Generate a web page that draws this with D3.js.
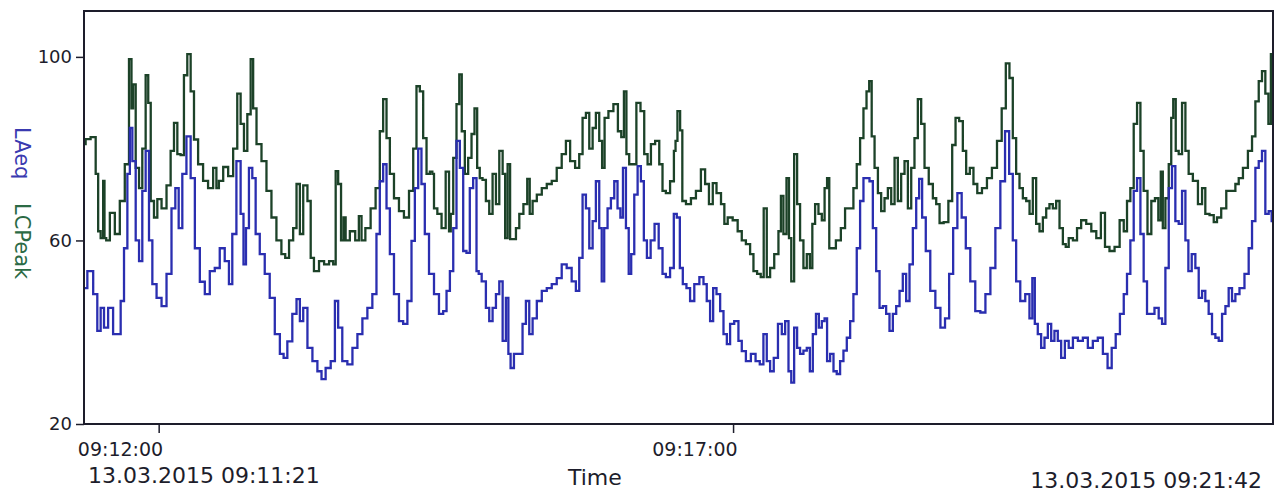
<!DOCTYPE html>
<html>
<head>
<meta charset="utf-8">
<script src="https://cdn.jsdelivr.net/npm/d3@7"></script>
<style>
  html, body { margin: 0; padding: 0; background: #ffffff; }
  svg { display: block; }
</style>
</head>
<body>
<svg id="chart" width="1276" height="495"></svg>
<script>
// ---- data (seconds after start, dB) ----
const startTime = "2015-03-13 09:11:21";
const endTime = "2015-03-13 09:21:42";
const yTicks = [20, 60, 100];
const xTicks = ["09:12:00", "09:17:00"];
const startLabel = "13.03.2015 09:11:21";
const endLabel = "13.03.2015 09:21:42";
const xTitle = "Time";
const seriesNames = ["LAeq", "LCPeak"];

const lcpeak = [
[0,81],[1.7,82.1],[5.2,82.5],[7,74.5],[7.8,62],[9.6,60.5],[10.4,73],[11,60.5],[12.2,60],[14.8,66],[17.4,61.4],[20,68.6],[22.6,76.6],[24.4,99.5],[25.2,88.8],[26.1,94],[27.9,75.8],[29.6,71.4],[31.3,80],[33.1,96],[34,90],[35.7,68.6],[37.4,65],[39.2,69],[41.8,67],[44.4,72],[46.1,79.5],[47.9,85.6],[49.6,78.8],[51.3,78.6],[53.1,96],[54.8,100.6],[56.6,92.5],[58.3,82],[60.9,76.6],[63.5,73],[66.1,71.4],[68.8,75.8],[69.5,71.4],[71.4,73],[74,76],[76.6,74],[79.2,80],[80.9,92],[82.7,85.4],[84.4,79.5],[86.2,87.5],[87.9,99.5],[88.8,88.8],[91.4,81],[94,77.3],[96.6,70.8],[99.2,65],[101.8,60],[104.4,57],
[105.8,56.2],[108.4,60],[110.1,62.7],[111.9,72.3],[113.6,61.4],[115.4,72],[118,68.6],[118.8,56.2],[121.4,53.3],[124.1,55.5],[126.7,54.8],[129.3,55.5],[131,54.8],[131.9,75.1],[133.6,72.3],[134.9,60],[136.2,65],[137.1,60],[140.6,62],[142.7,60],[144.4,65.3],[145.5,60],[148.4,62.7],[151,67],[153.6,71.4],[155.4,83.8],[157.1,90.8],[158.9,82.3],[160.6,74.5],[163.2,69.2],[165.8,66.4],[168.4,65],[171.1,70.8],[172.8,80],[174.5,93.6],[176.3,92.5],[178,82.3],[179.8,74.5],[181.5,75],[182.4,74.5],[183.2,67],[185.9,65.8],[187.6,62.7],[190.2,75],[191.1,62],[192,65.8],[193.7,78],[195.4,89.7],[196.6,96.2],[198,83.8],[199.8,74.5],[201.5,78],[203.3,83.2],[204.6,88.8],
[206.1,75.8],[207.3,73.6],[209,73.2],[210.8,68.6],[212.5,65.8],[214.3,74.5],[216,67.9],[217.8,79.5],[219.5,74.5],[220.4,60.5],[222.1,76.6],[223,60.3],[224.7,60.3],[226.5,62.7],[228.2,65.8],[230.8,67.9],[232.2,73.4],[233.4,65.8],[235.2,68.6],[237.8,70],[240.4,71.4],[243,72.3],[245.6,73],[248.2,75.8],[250.8,78.8],[252.6,81.7],[255.2,77.3],[257.8,75.8],[259.5,78.8],[261.3,86.7],[263,87.8],[264.8,80],[266.5,84.5],[268.2,87.8],[270,81.7],[271.2,75.8],[272.6,86.7],[275.2,88.2],[277.8,89.7],[279.9,83.8],[281.3,82.5],[282.7,92.5],[283.9,78.8],[285.6,76.6],[287.4,76.6],[289.6,90],[291.7,88.2],[293.5,78.8],[295.2,76.6],[297,81],[299.6,81.7],[301.3,76.6],[303,70.8],[304.8,70.3],[307.4,72.9],[308.8,79.5],
[309.1,81.7],[310.8,88.2],[311.9,84],[313.1,68.6],[315.7,67.9],[318.3,69.2],[320.9,70.8],[323.5,75.5],[325.3,72.3],[327.5,67.9],[329.3,72.5],[331.4,70.3],[334,67.9],[334.9,63.6],[337.5,65],[340.1,64.4],[342.7,62],[344.4,60],[347,59.2],[348.8,57],[350.5,53.3],[352.6,52.7],[354.3,52],[355.7,67],[357.5,52],[359.2,54],[361.8,57],[363.6,62],[364.4,69.7],[366.2,61.4],[367.6,73.6],[368.8,60.5],[370,51.1],[371.8,78.8],[373.1,67.9],[374.9,60],[376.6,54],[378.4,57],[379.8,54],[381,63.6],[382.7,67.9],[384.5,65.8],[386.2,64.4],[387.4,71.4],[388.8,73.6],[389.7,58.3],[391.4,58.3],[394,60],[396.6,62.7],[398.4,67],[401,67],[402.7,71.4],[404.5,76.6],[406.2,82.3],[408,88.8],
[409.4,92.5],[410.8,94.7],[412,82.7],[413.8,75.8],[415.5,70.3],[417.2,66.4],[419,69.2],[420.7,71.4],[422.5,67.9],[424.2,78],[425.9,68.6],[427.7,74.5],[429.4,77.3],[431.2,67],[432.9,75.8],[434.6,82.3],[436.4,90.8],[438.1,85.4],[439.9,75.8],[442.5,72.3],[444.2,69.2],[446,67.9],[447.7,63.8],[450.3,64],[452.6,68.6],[454.3,80.8],[456.1,86.7],[458.1,86],[459.9,79.5],[461.6,74.5],[463.7,75.8],[465.4,72.3],[467.7,70.3],[470.3,71.4],[472.9,73.6],[475.5,75.8],[478.2,81.7],[480.4,88.8],[482.5,98.6],[484.2,95.4],[486,82.3],[487.7,74.5],[489.5,71.4],[491.2,69.2],[493,68.6],[494.7,65.8],[496.4,73.6],[498.2,63.6],[499.9,62],[501.7,65],[503.4,67],[505.1,67.9],[506.9,67],[508.6,68.6],[510.4,62.7],[512.1,59.2],
[513.4,58.6],[515.2,60.5],[517.8,60],[519.5,62.7],[522.1,64.4],[524.8,63.6],[527.4,62],[530,60.5],[532.2,66],[534.3,58.6],[536.9,57.7],[539.6,58.6],[542.2,64.4],[543.9,62],[545.6,68.6],[547.4,71.4],[549.1,85.4],[550.9,90],[552.6,79.5],[554.3,70.8],[556.6,61.4],[558.3,68.6],[560.4,69.2],[561.8,64.4],[563,75],[563.9,62.7],[565.7,69.2],[567.4,76.6],[568.3,86.7],[569.5,90.8],[570.9,79.5],[572.6,78.8],[574.4,90],[576.1,79.5],[577.8,74.5],[580.5,73],[583.1,67.9],[584.8,71.4],[586.5,65.8],[589.2,65.5],[590.9,64],[592.6,65],[595.3,67],[597.9,70.8],[600.5,70.8],[602.2,72.3],[604,73.6],[606.6,75.8],[609.2,79.5],[610.9,82.7],[612.7,90.3],[614.4,94.7],[616.1,96.9],[617.9,92],[619.3,85.4],[620.5,100.6],[621,100.6]
];

const laeq = [
[0,49.6],[3.5,53.3],[6.1,48.3],[7.8,40.3],[9.6,45.3],[11.3,41],[13.9,45.3],[16.5,39.6],[18.3,39.6],[20,46.8],[21.8,58.3],[23.5,74.5],[24.4,84.5],[26.1,77.3],[27.9,60],[29.6,55.5],[31.3,70.8],[33.1,79.5],[34.8,60],[36.6,50.5],[39.2,47.5],[41.8,45.7],[44.4,52.7],[47,67],[48.4,71.4],[50.5,62.7],[52.2,74.5],[54.8,82.7],[56.6,73.6],[59.2,58.3],[61.8,51],[64.4,48.3],[67,53.3],[69.6,54],[72.2,58.3],[74.8,55.5],[76.6,50.5],[78.3,61.4],[80.9,77.3],[82.7,65.8],[83.9,54.8],[85.3,62.7],[87,75.8],[88.8,73.6],[90.5,61.4],[93.1,57],[95.7,52.7],[98.3,47.5],[101,39.6],[103.6,35.3],
[104.9,34.4],[107.5,38],[110.1,44],[111.9,47.2],[113.6,42.4],[115.4,45.3],[118,36.6],[120.6,33.7],[123.2,31.5],[124.9,29.8],[127.5,32.2],[130.2,33.7],[131.9,46.8],[133.6,41],[136.2,33.7],[138.9,33],[141.5,36.6],[144.1,39.6],[146.7,43],[149.3,45.3],[151.9,48.3],[153.6,61.4],[155.4,72.9],[157.1,76.6],[158.9,67],[160.6,57],[163.2,48.3],[165.8,42.4],[167.6,41.8],[170.2,46.8],[171.9,59.9],[173.7,71.4],[175.4,80],[177.1,72.3],[178.9,61.4],[181.5,52.7],[184.1,48.3],[186.7,44],[188.5,44.6],[190.2,49],[192,53.3],[193.7,62.7],[195.4,81.7],[197.2,75.8],[198.9,57.7],[200.6,57.3],[202.4,71.4],[204.1,73.6],[205.9,53.3],
[206.4,52.7],[209,51.1],[210.8,45.3],[212.5,42.4],[214.3,45.3],[216,48.3],[217.8,51.1],[219.5,38.1],[221.2,47.5],[222.1,35.3],[223.5,32.2],[225.6,35.3],[228.2,35.3],[229.9,41.8],[231.7,46.8],[233.4,39.6],[235.2,43],[237.8,46.8],[240.4,49],[243,49.6],[245.6,50.5],[248.2,51.8],[250.8,54.8],[253.4,54],[256,51.1],[257.8,49],[259.5,56.2],[261.3,70],[263,67],[264.8,58.3],[266.5,64.2],[268.2,72.9],[270,62.7],[270.8,51.1],[272.6,62.7],[274.3,67],[276.1,69.2],[277.8,72.9],[279.5,67],[280.8,65],[282.2,75.8],[283.9,62.7],[285.1,52.7],[286.5,57],[288.3,70],[290,76.2],[291.7,72.9],[293.1,60],[294.9,56.2],[297,60],[299,63.6],[301.3,58.3],[303,52.7],[304.8,52],[307.4,54],
[308.7,65.8],[310.5,65],[311.9,54],[313.6,50.5],[315.7,49.6],[317.4,46.8],[320.1,50.5],[322.7,52],[324.4,50.5],[326.1,46.8],[327.9,42.4],[329.3,49.6],[331.4,48.3],[333.1,44.6],[334.9,39.6],[336.6,37.4],[338.3,41.8],[340.9,42.4],[342.7,38.1],[344.4,35.9],[347,33.7],[349.6,35.3],[351.9,33.7],[354,33],[355.7,39.6],[357.5,33.7],[359.2,31.5],[361.3,34.4],[363.6,41.8],[365.3,39.6],[367.1,42.4],[368.8,31.5],[370,29],[371.8,41],[373.1,36.6],[374.9,35.3],[376.6,36],[378.4,36.6],[379.8,31.5],[381.5,39.6],[383.1,44],[384.5,41],[386.2,42.4],[387.4,43],[388.8,33.7],[390.6,35.3],[392.3,31.5],[394,30.9],[395.8,33.7],[397.5,36],[399.3,38.8],[401,42.4],[402.7,48.3],[404.5,58.3],[406.2,68.6],[408,73.6],
[409.4,73.6],[411.1,72.9],[412.9,62.7],[414.6,53.3],[416.4,45.3],[418.1,45.7],[419.8,44],[421.6,40.3],[423.3,44],[425.1,45.7],[426.8,49],[428.5,52.7],[430.3,46.8],[432,54.8],[433.8,62.7],[435.5,69.2],[436.9,73.4],[438.6,65],[440.7,57.7],[443.3,49],[446,45.3],[448.6,41],[450.8,43],[452.9,52.7],[455,62.7],[457.3,70.3],[459.5,65],[461.6,58.3],[464.2,51.1],[466.8,44.6],[469.5,44.3],[472.1,48.3],[474.7,54],[477.3,62.7],[479.9,72.9],[482.2,83.8],[484.2,74.5],[486,60],[487.7,51.1],[490.3,46.8],[492.9,48.3],[494.7,43],[495.9,51.8],[497.3,41.8],[499,39.6],[500.8,36.6],[502.5,38.8],[504.3,41.8],[506,38.1],[507.7,40.3],[509.5,38.1],[511.2,34.4],
[513.4,38.1],[515.2,36.6],[517.8,38.8],[520.4,38.1],[523,38.8],[525.6,36.6],[528.2,38.1],[530.8,38.8],[533.5,35.3],[535.7,32.2],[537.8,36.6],[539.9,39.6],[542.2,44],[543.9,48.3],[545.6,52.7],[547.4,60],[549.1,70.8],[550.9,73.6],[552.6,61.4],[554.3,51.1],[556.1,44],[557.8,44],[560.4,45.3],[562.2,43],[563.9,41.8],[565.7,54],[567.4,71.4],[569.1,76.2],[570.9,64.2],[572.6,63.6],[574.4,70.8],[576.1,60],[577.5,53.3],[579.6,57],[581.3,54],[583.1,47.5],[584.8,49],[586.5,46.8],[588.3,44],[590,39.6],[591.8,38.8],[593.5,38.1],[595.3,44],[597,45.7],[598.7,49.6],[600.5,46.8],[602.2,48.3],[604.8,49.6],[607.4,52.7],[609.2,58.3],[610.9,64.2],[612.7,75.8],[614.4,77.3],[616.1,79.5],[617.9,65.8],[619.6,66.4],[621,64.2]
];

// ---- layout ----
const W = 1276, H = 495;
const m = { left: 84, top: 11, right: 3, bottom: 71 };
const pw = W - m.left - m.right, ph = H - m.top - m.bottom;
const parse = d3.timeParse("%Y-%m-%d %H:%M:%S");
const t0 = parse(startTime), t1 = parse(endTime);
const toDate = s => new Date(t0.getTime() + s * 1000);
const tickDates = xTicks.map(s => parse("2015-03-13 " + s));

const x = d3.scaleTime().domain([t0, t1]).range([0, pw]);
const y = d3.scaleLinear().domain([20, 110]).range([ph, 0]);

const svg = d3.select("#chart");
const g = svg.append("g").attr("transform", `translate(${m.left},${m.top})`);
const font = "'DejaVu Sans', Verdana, sans-serif";
const ink = "#1d1d2b";

svg.append("defs").append("clipPath").attr("id", "clip")
  .append("rect").attr("width", pw).attr("height", ph);

const line = d3.line()
  .x(d => x(toDate(d[0])))
  .y(d => y(d[1]))
  .curve(d3.curveStep);

const plot = g.append("g").attr("clip-path", "url(#clip)");
plot.append("path").datum(lcpeak)
  .attr("fill", "none").attr("stroke", "#1c4228").attr("stroke-width", 2.3)
  .attr("stroke-linejoin", "miter").attr("d", line);
plot.append("path").datum(laeq)
  .attr("fill", "none").attr("stroke", "#2a2eb0").attr("stroke-width", 2.3)
  .attr("stroke-linejoin", "miter").attr("d", line);

// frame
g.append("rect").attr("width", pw).attr("height", ph)
  .attr("fill", "none").attr("stroke", ink).attr("stroke-width", 2);

// y axis
const yAxis = g.append("g").call(d3.axisLeft(y).tickValues(yTicks).tickSize(8).tickPadding(4));
yAxis.select(".domain").remove();
yAxis.selectAll("line").attr("stroke", ink).attr("stroke-width", 1.5);
yAxis.selectAll("text").attr("font-family", font).attr("font-size", 18).attr("fill", ink);

// x axis
const xAxis = g.append("g").attr("transform", `translate(0,${ph})`)
  .call(d3.axisBottom(x).tickValues(tickDates).tickFormat(d3.timeFormat("%H:%M:%S")).tickSize(9).tickPadding(3));
xAxis.select(".domain").remove();
xAxis.selectAll("line").attr("stroke", ink).attr("stroke-width", 1.5);
xAxis.selectAll("text").attr("font-family", font).attr("font-size", 19).attr("fill", ink)
  .attr("text-anchor", "end").attr("dx", 4).attr("dy", 0).attr("y", 32);

// bottom labels
svg.append("text").attr("x", 88).attr("y", 483).attr("font-family", font).attr("font-size", 22)
  .attr("fill", ink).text(startLabel);
svg.append("text").attr("x", 1262).attr("y", 488).attr("text-anchor", "end").attr("font-family", font)
  .attr("font-size", 22).attr("fill", ink).text(endLabel);
svg.append("text").attr("x", 568).attr("y", 485).attr("font-family", font).attr("font-size", 22)
  .attr("fill", ink).text(xTitle);

// y title (two coloured words)
svg.append("text").attr("transform", "translate(15,127) rotate(90)")
  .attr("font-family", font).attr("font-size", 21).attr("fill", "#3a3ab0").text(seriesNames[0]);
svg.append("text").attr("transform", "translate(15,203) rotate(90)")
  .attr("font-family", font).attr("font-size", 21).attr("fill", "#2b6a45").text(seriesNames[1]);
</script>
</body>
</html>
